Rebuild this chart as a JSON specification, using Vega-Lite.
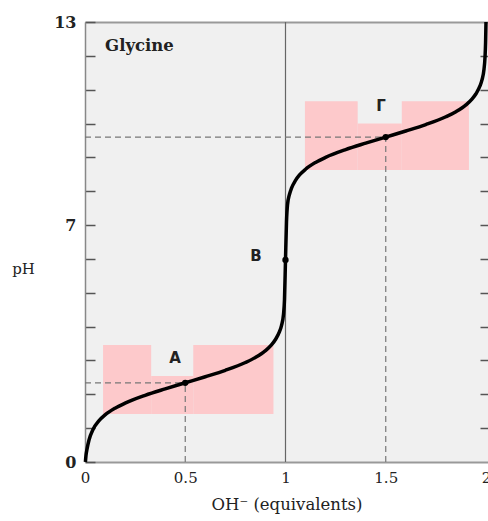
{
  "$schema": "https://vega.github.io/schema/vega-lite/v6.json",
  "width": 403,
  "height": 440,
  "autosize": "none",
  "padding": {"left": 85, "top": 22, "right": 0, "bottom": 59},
  "config": {"view": {"fill": "#f0f0f0", "stroke": null}},
  "datasets": {
    "curve": [
      {"x": 0.002, "pH": 0.0}, {"x": 0.005, "pH": 0.2}, {"x": 0.01, "pH": 0.38}, {"x": 0.02, "pH": 0.65},
      {"x": 0.04, "pH": 0.96}, {"x": 0.07, "pH": 1.22}, {"x": 0.1, "pH": 1.39}, {"x": 0.15, "pH": 1.59},
      {"x": 0.2, "pH": 1.74}, {"x": 0.3, "pH": 1.97}, {"x": 0.4, "pH": 2.16}, {"x": 0.5, "pH": 2.34},
      {"x": 0.6, "pH": 2.52}, {"x": 0.7, "pH": 2.71}, {"x": 0.8, "pH": 2.94}, {"x": 0.85, "pH": 3.09},
      {"x": 0.9, "pH": 3.29}, {"x": 0.93, "pH": 3.46}, {"x": 0.95, "pH": 3.62}, {"x": 0.97, "pH": 3.85},
      {"x": 0.98, "pH": 4.03}, {"x": 0.99, "pH": 4.36}, {"x": 0.995, "pH": 4.8}, {"x": 1.0, "pH": 5.97},
      {"x": 1.005, "pH": 7.1}, {"x": 1.01, "pH": 7.6}, {"x": 1.02, "pH": 7.91}, {"x": 1.03, "pH": 8.09},
      {"x": 1.05, "pH": 8.32}, {"x": 1.07, "pH": 8.48}, {"x": 1.1, "pH": 8.65}, {"x": 1.15, "pH": 8.85},
      {"x": 1.2, "pH": 9.0}, {"x": 1.3, "pH": 9.23}, {"x": 1.4, "pH": 9.42}, {"x": 1.5, "pH": 9.6},
      {"x": 1.6, "pH": 9.78}, {"x": 1.7, "pH": 9.97}, {"x": 1.8, "pH": 10.2}, {"x": 1.85, "pH": 10.35},
      {"x": 1.9, "pH": 10.55}, {"x": 1.93, "pH": 10.72}, {"x": 1.95, "pH": 10.88}, {"x": 1.97, "pH": 11.11},
      {"x": 1.98, "pH": 11.29}, {"x": 1.99, "pH": 11.6}, {"x": 1.995, "pH": 11.95}, {"x": 1.998, "pH": 12.4},
      {"x": 2.0, "pH": 13.0}
    ],
    "boxes": [
      {"x": 0.09, "x2": 0.33, "y": 1.42, "y2": 3.46},
      {"x": 0.33, "x2": 0.54, "y": 1.42, "y2": 2.54},
      {"x": 0.54, "x2": 0.94, "y": 1.42, "y2": 3.46},
      {"x": 1.097, "x2": 1.36, "y": 8.63, "y2": 10.66},
      {"x": 1.36, "x2": 1.58, "y": 8.63, "y2": 10.0},
      {"x": 1.58, "x2": 1.915, "y": 8.63, "y2": 10.66}
    ],
    "dashes": [
      {"x": 0, "x2": 0.5, "y": 2.34, "y2": 2.34},
      {"x": 0.5, "x2": 0.5, "y": 0, "y2": 2.34},
      {"x": 0, "x2": 1.5, "y": 9.6, "y2": 9.6},
      {"x": 1.5, "x2": 1.5, "y": 0, "y2": 9.6}
    ],
    "points": [
      {"x": 0.5, "pH": 2.34, "label": "A", "lx": 0.449, "ly": 3.07},
      {"x": 1.0, "pH": 5.97, "label": "B", "lx": 0.853, "ly": 6.09},
      {"x": 1.5, "pH": 9.6, "label": "Γ", "lx": 1.476, "ly": 10.52}
    ],
    "title": [{"x": 0.1, "pH": 12.3, "label": "Glycine"}]
  },
  "layer": [
    {
      "data": {"name": "boxes"},
      "mark": {"type": "rect", "color": "#fdc9cb"},
      "encoding": {
        "x": {
          "field": "x", "type": "quantitative",
          "scale": {"domain": [0, 2.01], "nice": false, "zero": false},
          "axis": {
            "values": [0, 0.5, 1, 1.5, 2], "format": "~g", "ticks": false, "grid": false, "labelOverlap": false,
            "labelFlush": false,
            "domainColor": "#999", "domainWidth": 2,
            "labelFont": "DejaVu Serif", "labelFontSize": 15, "labelColor": "#222", "labelPadding": 8,
            "title": "OH⁻ (equivalents)", "titleFont": "DejaVu Serif", "titleFontSize": 16.5,
            "titleFontWeight": "normal", "titleColor": "#222", "titlePadding": 11
          }
        },
        "x2": {"field": "x2"},
        "y": {
          "field": "y", "type": "quantitative",
          "scale": {"domain": [0, 13], "nice": false, "zero": false},
          "axis": {
            "values": [0, 1, 2, 3, 4, 5, 6, 7, 8, 9, 10, 11, 12, 13],
            "labelExpr": "datum.value == 0 || datum.value == 7 || datum.value == 13 ? datum.label : ''",
            "labelOverlap": false, "labelFlush": false,
            "grid": false, "tickSize": -10, "tickColor": "#555", "tickWidth": 1.5,
            "domainColor": "#888", "domainWidth": 1.5,
            "labelFont": "DejaVu Serif", "labelFontSize": 16, "labelFontWeight": "bold",
            "labelColor": "#222", "labelPadding": 19,
            "title": "pH", "titleAngle": 0, "titleX": -62, "titleY": 246,
            "titleAlign": "center", "titleBaseline": "middle",
            "titleFont": "DejaVu Serif", "titleFontSize": 15, "titleFontWeight": "normal", "titleColor": "#222"
          }
        },
        "y2": {"field": "y2"}
      }
    },
    {
      "data": {"values": [{"x": 1}]},
      "mark": {"type": "rule", "color": "#666", "strokeWidth": 1.2},
      "encoding": {
        "x": {"field": "x", "type": "quantitative", "scale": {"domain": [0, 2.01], "nice": false, "zero": false}, "axis": null}
      }
    },
    {
      "data": {"name": "dashes"},
      "mark": {"type": "rule", "color": "#777", "strokeWidth": 1.2, "strokeDash": [6, 4]},
      "encoding": {
        "x": {"field": "x", "type": "quantitative", "scale": {"domain": [0, 2.01], "nice": false, "zero": false}, "axis": null},
        "x2": {"field": "x2"},
        "y": {"field": "y", "type": "quantitative", "scale": {"domain": [0, 13], "nice": false, "zero": false}, "axis": null},
        "y2": {"field": "y2"}
      }
    },
    {
      "data": {"name": "curve"},
      "mark": {"type": "line", "color": "#000", "strokeWidth": 3.5, "interpolate": "monotone"},
      "encoding": {
        "x": {"field": "x", "type": "quantitative", "scale": {"domain": [0, 2.01], "nice": false, "zero": false}, "axis": null},
        "y": {"field": "pH", "type": "quantitative", "scale": {"domain": [0, 13], "nice": false, "zero": false}, "axis": null}
      }
    },
    {
      "data": {"name": "points"},
      "mark": {"type": "point", "filled": true, "color": "#000", "size": 40, "opacity": 1},
      "encoding": {
        "x": {"field": "x", "type": "quantitative", "scale": {"domain": [0, 2.01], "nice": false, "zero": false}, "axis": null},
        "y": {"field": "pH", "type": "quantitative", "scale": {"domain": [0, 13], "nice": false, "zero": false}, "axis": null}
      }
    },
    {
      "data": {"name": "points"},
      "mark": {"type": "text", "font": "DejaVu Sans", "fontSize": 15, "fontWeight": "bold", "color": "#222", "align": "center", "baseline": "middle"},
      "encoding": {
        "x": {"field": "lx", "type": "quantitative", "scale": {"domain": [0, 2.01], "nice": false, "zero": false}, "axis": null},
        "y": {"field": "ly", "type": "quantitative", "scale": {"domain": [0, 13], "nice": false, "zero": false}, "axis": null},
        "text": {"field": "label"}
      }
    },
    {
      "data": {"name": "title"},
      "mark": {"type": "text", "font": "DejaVu Serif", "fontSize": 16.5, "fontWeight": "bold", "color": "#222", "align": "left", "baseline": "middle"},
      "encoding": {
        "x": {"field": "x", "type": "quantitative", "scale": {"domain": [0, 2.01], "nice": false, "zero": false}, "axis": null},
        "y": {"field": "pH", "type": "quantitative", "scale": {"domain": [0, 13], "nice": false, "zero": false}, "axis": null},
        "text": {"field": "label"}
      }
    },
    {
      "data": {"values": [{"x": 0, "pH": 0}]},
      "mark": {"type": "rule", "opacity": 0},
      "encoding": {
        "x": {
          "field": "x", "type": "quantitative",
          "scale": {"domain": [0, 2.01], "nice": false, "zero": false},
          "axis": {"orient": "top", "ticks": false, "labels": false, "grid": false, "title": null, "domainColor": "#999", "domainWidth": 2}
        },
        "y": {
          "field": "pH", "type": "quantitative",
          "scale": {"domain": [0, 13], "nice": false, "zero": false},
          "axis": {
            "orient": "right", "values": [1, 2, 3, 4, 5, 6, 7, 8, 9, 10, 11, 12], "labels": false, "domain": false,
            "grid": false, "title": null, "tickSize": -8, "tickColor": "#555", "tickWidth": 1.5
          }
        }
      }
    }
  ],
  "resolve": {"axis": {"x": "independent", "y": "independent"}}
}
